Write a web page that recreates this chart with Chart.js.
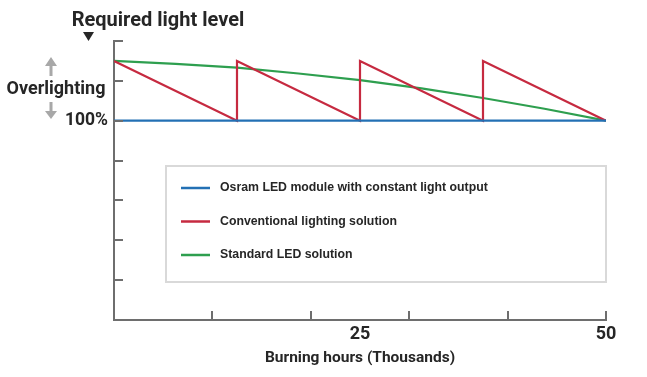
<!DOCTYPE html>
<html>
<head>
<meta charset="utf-8">
<script src="https://cdn.jsdelivr.net/npm/chart.js@4.4.1/dist/chart.umd.min.js"></script>
<style>
  html, body { margin: 0; padding: 0; background: #fff; }
  #wrap { width: 647px; height: 377px; position: relative; }
</style>
</head>
<body>
<div id="wrap"><canvas id="lightChart"></canvas></div>
<script>
// ========================================
// Data
// ========================================
const seriesLabels = [
    'Osram LED module with constant light output',
    'Conventional lighting solution',
    'Standard LED solution'
];
const osramX = [0, 50];
const osramY = [100, 100];
const conventionalX = [0, 12.5, 12.5, 25, 25, 37.5, 37.5, 50];
const conventionalY = [130, 100, 130, 100, 130, 100, 130, 100];
const standardX = [0, 6.25, 12.5, 18.75, 25, 31.25, 37.5, 43.75, 50];
const standardY = [130, 128.5, 126.6, 123.7, 120.4, 116.2, 111.4, 106, 100];
const xTickMarks = [10, 20, 30, 40, 50];
const xTickLabels = [25, 50];
const yTickMarks = [20, 40, 60, 80, 100, 120, 140];
const yTickLabels = { 100: '100%' };

const FONT = "Roboto, 'Liberation Sans', sans-serif";
const TEXT = '#262626';
const AXIS = '#6e6e6e';

function toPoints(xs, ys) {
    return xs.map((x, i) => ({ x: x, y: ys[i] }));
}

// ========================================
// Plugins: inward ticks, annotations, legend box
// ========================================
const decorPlugin = {
    id: 'decor',
    afterDatasetsDraw(chart) {
        const { ctx, chartArea, scales } = chart;
        const x = scales.x, y = scales.y;

        // inward tick marks
        ctx.save();
        ctx.strokeStyle = AXIS;
        ctx.lineWidth = 2;
        ctx.beginPath();
        yTickMarks.forEach(v => {
            const py = Math.round(y.getPixelForValue(v));
            ctx.moveTo(chartArea.left, py);
            ctx.lineTo(chartArea.left + 9, py);
        });
        xTickMarks.forEach(v => {
            const px = Math.round(x.getPixelForValue(v));
            ctx.moveTo(px, chartArea.bottom);
            ctx.lineTo(px, chartArea.bottom - 9);
        });
        ctx.stroke();
        ctx.restore();

        // legend box
        const box = { left: 166, top: 166, right: chartArea.right, bottom: 282 };
        ctx.save();
        ctx.fillStyle = '#fff';
        ctx.fillRect(box.left, box.top, box.right - box.left, box.bottom - box.top);
        ctx.strokeStyle = '#d9d9d9';
        ctx.lineWidth = 2;
        ctx.strokeRect(box.left, box.top, box.right - box.left, box.bottom - box.top);

        ctx.font = "bold 12.3px 'Liberation Sans', Arial, sans-serif";
        ctx.textBaseline = 'middle';
        ctx.fillStyle = TEXT;
        chart.data.datasets.forEach((ds, i) => {
            const ry = 188 + i * 33.5;
            ctx.strokeStyle = ds.borderColor;
            ctx.lineWidth = 2.5;
            ctx.beginPath();
            ctx.moveTo(181, ry);
            ctx.lineTo(210, ry);
            ctx.stroke();
            ctx.fillText(ds.label, 220, ry);
        });
        ctx.restore();
    },
    afterDraw(chart) {
        const { ctx } = chart;
        ctx.save();
        ctx.fillStyle = TEXT;
        ctx.textAlign = 'center';
        ctx.textBaseline = 'alphabetic';
        ctx.font = 'bold 20px ' + FONT;
        ctx.fillText('Required light level', 158, 26);

        // black marker triangle
        ctx.beginPath();
        ctx.moveTo(83, 32);
        ctx.lineTo(94, 32);
        ctx.lineTo(88.5, 41);
        ctx.closePath();
        ctx.fill();

        ctx.font = 'bold 18px ' + FONT;
        ctx.textBaseline = 'middle';
        ctx.fillText('Overlighting', 56, 89);

        // gray arrows
        ctx.strokeStyle = '#a8a8a8';
        ctx.fillStyle = '#a8a8a8';
        ctx.lineWidth = 3;
        ctx.beginPath();
        ctx.moveTo(51, 64); ctx.lineTo(51, 76);
        ctx.moveTo(51, 102); ctx.lineTo(51, 113);
        ctx.stroke();
        ctx.beginPath();
        ctx.moveTo(45, 66); ctx.lineTo(57, 66); ctx.lineTo(51, 57); ctx.closePath();
        ctx.moveTo(45, 111); ctx.lineTo(57, 111); ctx.lineTo(51, 119); ctx.closePath();
        ctx.fill();
        ctx.restore();
    }
};

// ========================================
// Chart
// ========================================
const chartEl = document.getElementById('lightChart');
new Chart(chartEl, {
    type: 'line',
    data: {
        datasets: [{
            label: seriesLabels[0],
            data: toPoints(osramX, osramY),
            borderColor: '#2370b4',
            borderWidth: 2.2
        }, {
            label: seriesLabels[1],
            data: toPoints(conventionalX, conventionalY),
            borderColor: '#c62a40',
            borderWidth: 2.2
        }, {
            label: seriesLabels[2],
            data: toPoints(standardX, standardY),
            borderColor: '#2e9f4f',
            borderWidth: 2.2
        }]
    },
    options: {
        responsive: true,
        maintainAspectRatio: false,
        animation: false,
        elements: { point: { radius: 0 }, line: { tension: 0 } },
        layout: { padding: { top: 41, right: 41, left: 0, bottom: 0 } },
        plugins: { legend: { display: false }, tooltip: { enabled: false } },
        scales: {
            x: {
                type: 'linear',
                min: 0,
                max: 50,
                grid: { display: false, drawTicks: false },
                border: { display: true, color: AXIS, width: 2 },
                ticks: {
                    stepSize: 5,
                    autoSkip: false,
                    maxRotation: 0,
                    padding: 4,
                    color: TEXT,
                    font: { family: FONT, size: 18, weight: 'bold' },
                    callback: v => xTickLabels.includes(v) ? String(v) : ''
                },
                title: {
                    display: true,
                    text: 'Burning hours (Thousands)',
                    color: TEXT,
                    font: { family: FONT, size: 15.5, weight: 'bold' },
                    padding: { top: 0, bottom: 10 }
                },
                afterFit: scale => { scale.height = 57; }
            },
            y: {
                min: 0,
                max: 140,
                grid: { display: false, drawTicks: false },
                border: { display: true, color: AXIS, width: 2 },
                ticks: {
                    stepSize: 20,
                    padding: 6,
                    color: TEXT,
                    font: { family: FONT, size: 17.5, weight: 'bold' },
                    callback: v => yTickLabels[v] || ''
                },
                afterFit: scale => { scale.width = 114; }
            }
        }
    },
    plugins: [decorPlugin]
});
</script>
</body>
</html>
